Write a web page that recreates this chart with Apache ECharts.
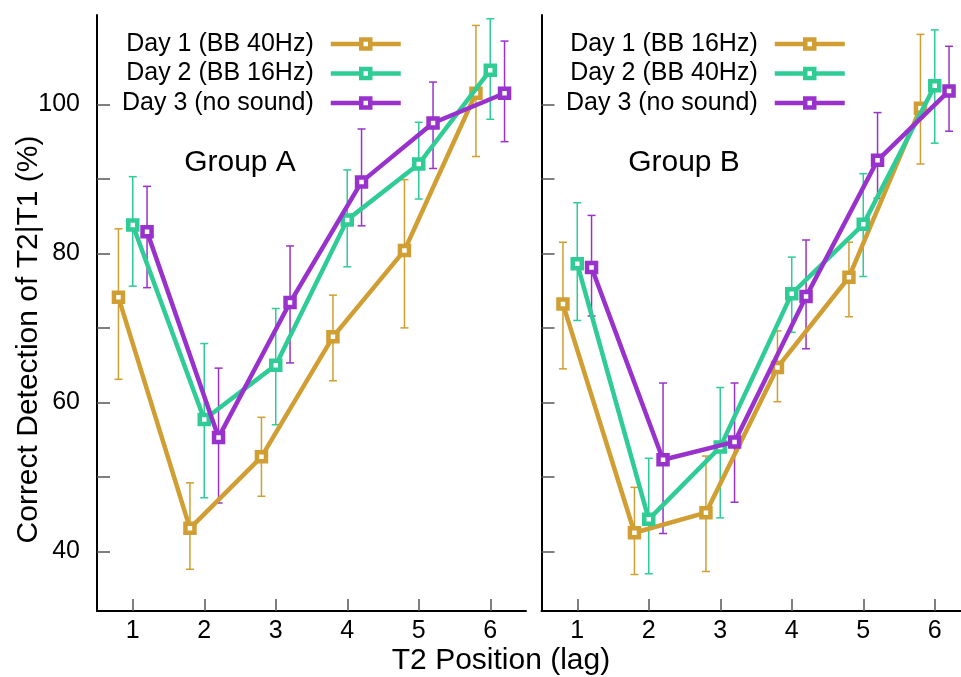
<!DOCTYPE html>
<html>
<head>
<meta charset="utf-8">
<script src="https://cdn.jsdelivr.net/npm/echarts@6/dist/echarts.min.js"></script>
<style>
html,body{margin:0;padding:0;background:#fff;overflow:hidden;}
#chart{width:961px;height:677px;}
</style>
</head>
<body>
<div id="chart"></div>
<script>
// ---- data ----
const lags = [1, 2, 3, 4, 5, 6];
const dayOffsets = [-0.2, 0, 0.2];
const namesA = ['Day 1 (BB 40Hz)', 'Day 2 (BB 16Hz)', 'Day 3 (no sound)'];
const namesB = ['Day 1 (BB 16Hz)', 'Day 2 (BB 40Hz)', 'Day 3 (no sound)'];
const groupLabels = ['Group A', 'Group B'];

// Group A
const a_day1 = [74.1, 43.1, 52.7, 68.8, 80.4, 101.5];
const a_day1_lo = [63.1, 37.6, 47.4, 62.9, 70.0, 93.0];
const a_day1_hi = [83.3, 49.2, 58.0, 74.4, 89.9, 110.6];
const a_day2 = [83.8, 57.7, 65.0, 84.5, 92.0, 104.6];
const a_day2_lo = [75.6, 47.2, 57.0, 78.2, 87.3, 98.0];
const a_day2_hi = [90.3, 67.9, 72.6, 91.2, 97.6, 111.5];
const a_day3 = [82.9, 55.3, 73.4, 89.6, 97.5, 101.5];
const a_day3_lo = [75.4, 46.5, 65.3, 83.7, 91.4, 95.0];
const a_day3_hi = [89.0, 64.6, 81.0, 96.7, 103.0, 108.5];

// Group B
const b_day1 = [73.2, 42.5, 45.2, 64.7, 76.8, 99.5];
const b_day1_lo = [64.5, 36.9, 37.3, 60.1, 71.5, 92.0];
const b_day1_hi = [81.5, 48.6, 52.8, 69.6, 81.5, 109.4];
const b_day2 = [78.6, 44.3, 54.0, 74.6, 83.9, 102.5];
const b_day2_lo = [71.0, 37.0, 44.5, 69.4, 76.9, 94.8];
const b_day2_hi = [86.8, 52.5, 62.0, 79.5, 90.7, 110.0];
const b_day3 = [78.1, 52.3, 54.7, 74.2, 92.5, 101.8];
const b_day3_lo = [71.6, 42.4, 46.6, 67.2, 87.4, 96.4];
const b_day3_hi = [85.1, 62.6, 62.6, 81.8, 98.9, 107.8];

const yTicks = [40, 50, 60, 70, 80, 90, 100];
const yLabels = [40, 60, 80, 100];
const xTitle = 'T2 Position (lag)';
const yTitle = 'Correct Detection of T2|T1 (%)';

// ---- styles ----
const colors = ['#D09E32', '#2FCC96', '#9932CC'];
const FONT = '"Liberation Sans", Arial, Helvetica, sans-serif';

const groups = [
  {names: namesA, vals: [a_day1, a_day2, a_day3], lo: [a_day1_lo, a_day2_lo, a_day3_lo], hi: [a_day1_hi, a_day2_hi, a_day3_hi]},
  {names: namesB, vals: [b_day1, b_day2, b_day3], lo: [b_day1_lo, b_day2_lo, b_day3_lo], hi: [b_day1_hi, b_day2_hi, b_day3_hi]}
];

const grids = [
  {left: 97, top: 15, width: 429, height: 596, outerBoundsMode: 'none', containLabel: false},
  {left: 541.5, top: 15, width: 429, height: 596, outerBoundsMode: 'none', containLabel: false}
];

function xAxisDef(i) {
  return {
    type: 'value', gridIndex: i, min: 0.5, max: 6.5,
    axisLine: {show: true, lineStyle: {color: '#000', width: 2}},
    axisTick: {show: true, inside: true, length: 12, customValues: lags, lineStyle: {color: '#555', width: 1.5}},
    axisLabel: {show: true, customValues: lags, margin: 8, color: '#000', fontSize: 25, fontFamily: FONT},
    splitLine: {show: false}
  };
}
function yAxisDef(i) {
  return {
    type: 'value', gridIndex: i, min: 32, max: 112,
    axisLine: {show: true, lineStyle: {color: '#000', width: 2}},
    axisTick: {show: true, inside: true, length: 13, customValues: yTicks, lineStyle: {color: '#555', width: 1.5}},
    axisLabel: {show: i === 0, customValues: yLabels, margin: 17, color: '#000', fontSize: 25, fontFamily: FONT},
    splitLine: {show: false}
  };
}

const series = [];
groups.forEach((g, gi) => {
  // error bars first (below lines)
  for (let d = 0; d < 3; d++) {
    const errData = lags.map((l, k) => [l + dayOffsets[d], g.lo[d][k], g.hi[d][k]]);
    series.push({
      type: 'custom', xAxisIndex: gi, yAxisIndex: gi, silent: true, z: 1,
      data: errData,
      encode: {x: 0, y: [1, 2]},
      renderItem: (params, api) => {
        const x = api.value(0);
        const p1 = api.coord([x, api.value(1)]);
        const p2 = api.coord([x, api.value(2)]);
        const c = 4;
        const st = {stroke: colors[d], lineWidth: 1.5};
        return {type: 'group', children: [
          {type: 'line', shape: {x1: p1[0], y1: p1[1], x2: p2[0], y2: p2[1]}, style: st},
          {type: 'line', shape: {x1: p1[0] - c, y1: p1[1], x2: p1[0] + c, y2: p1[1]}, style: st},
          {type: 'line', shape: {x1: p2[0] - c, y1: p2[1], x2: p2[0] + c, y2: p2[1]}, style: st}
        ]};
      }
    });
  }
  for (let d = 0; d < 3; d++) {
    series.push({
      type: 'line', name: g.names[d], xAxisIndex: gi, yAxisIndex: gi, z: 3 + d,
      data: lags.map((l, k) => [l + dayOffsets[d], g.vals[d][k]]),
      symbol: 'rect', symbolSize: 9,
      lineStyle: {color: colors[d], width: 4.5},
      itemStyle: {color: '#fff', borderColor: colors[d], borderWidth: 4.5},
      emphasis: {disabled: true},
      animation: false
    });
  }
});

const legendRowsTop = [31.5, 61, 90.5];
const legends = [];
[[namesA, 558], [namesB, 114]].forEach(([names, right]) => {
  names.forEach((n, d) => {
    legends.push({
      data: [n], right: right, top: legendRowsTop[d], orient: 'vertical', align: 'right',
      padding: 0, itemWidth: 70, itemHeight: 11.25, selectedMode: false,
      textStyle: {fontSize: 25, fontFamily: FONT, color: '#000', lineHeight: 25, padding: [0, 12, 0, 0]},
      itemStyle: {color: '#fff', borderColor: colors[d], borderWidth: 4.5},
      lineStyle: {color: colors[d], width: 4.5}
    });
  });
});

const chart = echarts.init(document.getElementById('chart'), null, {renderer: 'canvas'});
chart.setOption({
  animation: false,
  backgroundColor: '#fff',
  grid: grids,
  xAxis: [xAxisDef(0), xAxisDef(1)],
  yAxis: [yAxisDef(0), yAxisDef(1)],
  legend: legends,
  series: series,
  graphic: [
    {type: 'text', x: 240, y: 163, style: {text: groupLabels[0], font: '30px ' + FONT, fill: '#000', align: 'center', verticalAlign: 'middle'}},
    {type: 'text', x: 684, y: 163, style: {text: groupLabels[1], font: '30px ' + FONT, fill: '#000', align: 'center', verticalAlign: 'middle'}},
    {type: 'text', x: 501, y: 661, style: {text: xTitle, font: '30px ' + FONT, fill: '#000', align: 'center', verticalAlign: 'middle'}},
    {type: 'text', x: 29, y: 339.5, rotation: Math.PI / 2, style: {text: yTitle, font: '30px ' + FONT, fill: '#000', align: 'center', verticalAlign: 'middle'}}
  ]
});
</script>
</body>
</html>
